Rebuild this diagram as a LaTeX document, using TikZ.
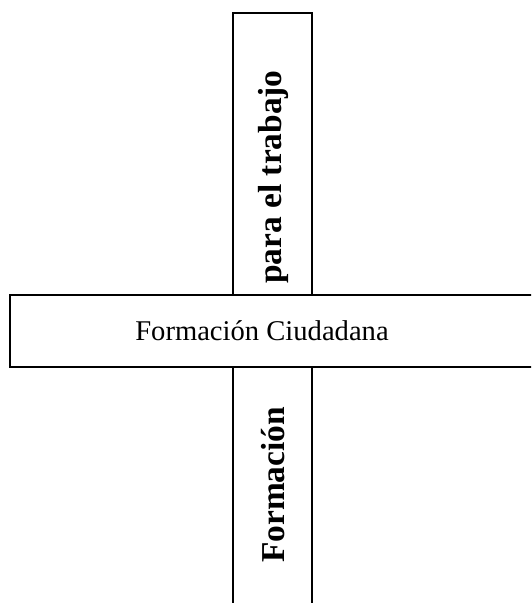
\documentclass[tikz,border=0pt]{standalone}
\usepackage{fontspec}
\setmainfont{Liberation Serif}
\usepackage{tikz}
\tikzset{%
  barline/.style={line width=1.6pt},
  bartext/.style={rotate=90, font=\fontsize{33.4}{36}\selectfont\bfseries},
}

\begin{document}
\begin{tikzpicture}[x=1pt,y=-1pt]
	\useasboundingbox (0,0) rectangle (531,603);
	\clip (0,0) rectangle (531,603);
	\draw [barline] (233,13) rectangle (312,295);
	\draw [barline] (233,603) -- (233,367);
	\draw [barline] (312,367) -- (312,603);
	\draw [barline] (10,295) rectangle (545,367);
	\node (ciudadana) at (262,331) {\fontsize{28.6}{32}\selectfont Formación Ciudadana};
	\node [bartext] (trabajo) at (273,177) {para el trabajo};
	\node [bartext] (formacion) at (273,485) {Formación};
\end{tikzpicture}
\end{document}
